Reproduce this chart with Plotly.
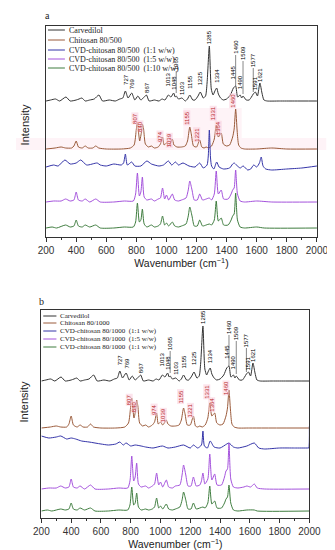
import plotly.graph_objects as go

W, H = 335, 550

# ---- spectra: (wavenumber cm-1, intensity above the trace's own baseline) ----
CARVEDILOL = [(200, 0), (230, 1), (263, 2), (290, 0), (332, 4), (360, 0), (400, 1), (419, 2), (438, 3), (460, 0),
              (490, 1), (520, 2), (551, 6), (575, 0), (620, 1), (660, 0), (690, 2), (710, 3), (727, 10), (745, 3),
              (769, 8), (790, 1), (810, 5), (830, 1), (852, 4), (867, 6), (885, 0), (920, 1), (950, 0), (971, 2),
              (990, 1), (1013, 6), (1030, 4), (1048, 8), (1058, 4), (1065, 5), (1080, 2), (1103, 3), (1125, 0),
              (1140, 2), (1155, 6), (1175, 1), (1190, 1), (1210, 5), (1225, 9), (1245, 3), (1260, 5), (1270, 18),
              (1285, 55), (1298, 12), (1310, 6), (1322, 10), (1334, 13), (1345, 7), (1360, 3), (1378, 1), (1400, 2),
              (1425, 6), (1445, 13), (1460, 15), (1473, 4), (1490, 6), (1500, 3), (1509, 5), (1530, 1), (1550, 1),
              (1565, 4), (1577, 7), (1591, 9), (1605, 5), (1621, 18), (1635, 8), (1648, 1), (1670, 0), (1750, 0),
              (1850, 0), (2000, 0)]

CHITOSAN_500 = [(200, 0), (260, 1), (300, 2), (330, 1), (370, 1), (385, 3), (400, 8), (415, 2), (440, 1), (460, 3),
                (480, 1), (510, 1), (530, 3), (550, 1), (600, 0), (700, 0), (760, 1), (785, 4), (800, 20), (807, 27),
                (822, 8), (835, 18), (840, 25), (848, 20), (860, 5), (880, 2), (900, 3), (920, 1), (945, 2), (960, 5),
                (974, 12), (985, 4), (1000, 6), (1015, 3), (1030, 7), (1039, 10), (1050, 4), (1070, 2), (1100, 2),
                (1125, 3), (1140, 8), (1155, 22), (1165, 15), (1180, 3), (1200, 2), (1221, 9), (1235, 2), (1250, 1),
                (1264, 2), (1280, 1), (1300, 3), (1318, 10), (1331, 24), (1345, 12), (1364, 16), (1378, 5), (1400, 3),
                (1420, 4), (1440, 12), (1450, 20), (1460, 40), (1470, 18), (1480, 4), (1495, 1), (1520, 0), (1600, 0),
                (1700, 1), (1800, 0), (2000, 0)]

CVD500_11 = [(200, -1), (250, 1), (280, 0), (325, 6), (360, 2), (400, 3), (430, 6), (470, 1), (540, 3), (560, 1),
             (600, 0), (650, 2), (700, 1), (715, 3), (727, 12), (740, 1), (769, 4), (790, 0), (830, 0), (870, 5),
             (900, 2), (950, 0), (980, 1), (1013, 5), (1035, 1), (1060, 4), (1080, 1), (1110, 3), (1150, 0), (1190, -1),
             (1221, 3), (1245, -2), (1270, 1), (1278, 10), (1285, 36), (1293, 8), (1300, 0), (1315, -3), (1334, 4),
             (1350, -1), (1380, -3), (1420, -2), (1440, 2), (1450, 3), (1465, 1), (1490, -2), (1510, 0), (1540, -4),
             (1560, -3), (1580, 1), (1600, -1), (1618, 3), (1630, 9), (1642, 0), (1660, -3), (1700, -4), (1800, -3),
             (1900, -2), (2000, 0)]

CVD500_15 = [(200, 0), (250, 1), (300, 1), (330, 3), (360, 1), (385, 2), (400, 10), (415, 2), (440, 1), (460, 3),
             (490, 0), (530, 3), (560, 0), (650, 0), (720, 1), (780, 1), (795, 8), (807, 29), (820, 6), (830, 10),
             (840, 25), (852, 5), (870, 2), (900, 3), (920, 1), (945, 3), (960, 4), (974, 14), (988, 3), (1000, 7),
             (1015, 2), (1039, 8), (1055, 2), (1080, 1), (1100, 2), (1130, 4), (1145, 12), (1155, 21), (1170, 12),
             (1185, 2), (1205, 2), (1221, 8), (1240, 2), (1264, 3), (1285, 4), (1300, 2), (1318, 8), (1331, 31),
             (1345, 8), (1364, 12), (1380, 3), (1410, 3), (1430, 8), (1440, 12), (1450, 14), (1460, 32), (1472, 8),
             (1490, 1), (1520, 0), (1600, 1), (1700, 0), (2000, 0)]

CVD500_110 = [(200, 0), (240, 1), (270, 0), (330, 3), (360, 1), (385, 2), (400, 8), (415, 2), (440, 1), (460, 3),
              (490, 1), (530, 3), (560, 0), (650, 0), (720, 1), (780, 1), (795, 6), (807, 25), (820, 6), (830, 8),
              (840, 19), (852, 4), (870, 1), (900, 3), (920, 1), (945, 2), (960, 4), (974, 12), (988, 3), (1000, 5),
              (1015, 2), (1039, 6), (1055, 2), (1080, 1), (1100, 2), (1130, 4), (1145, 12), (1155, 21), (1170, 12),
              (1185, 2), (1205, 2), (1221, 8), (1240, 2), (1264, 3), (1285, 4), (1300, 3), (1318, 8), (1331, 27),
              (1345, 7), (1364, 10), (1380, 3), (1410, 3), (1430, 8), (1440, 12), (1450, 14), (1460, 35), (1472, 8),
              (1490, 1), (1520, 0), (1600, 1), (1650, 0), (2000, 0)]

CHITOSAN_1000 = [(200, 0), (260, 1), (300, 2), (330, 1), (370, 1), (385, 4), (400, 12), (415, 3), (440, 1), (460, 3),
                 (480, 1), (510, 1), (530, 4), (550, 1), (600, 0), (700, 0), (760, 1), (785, 5), (800, 22), (807, 30),
                 (822, 10), (835, 20), (840, 28), (848, 22), (860, 5), (880, 2), (900, 3), (920, 1), (945, 3), (960, 6),
                 (974, 15), (985, 4), (1000, 6), (1015, 3), (1030, 6), (1039, 8), (1050, 4), (1070, 2), (1100, 2),
                 (1125, 3), (1140, 8), (1155, 20), (1165, 14), (1180, 3), (1200, 3), (1221, 12), (1235, 2), (1250, 1),
                 (1264, 2), (1280, 1), (1300, 3), (1318, 10), (1331, 25), (1345, 12), (1364, 15), (1378, 5), (1400, 3),
                 (1420, 4), (1440, 12), (1450, 20), (1460, 38), (1470, 18), (1480, 4), (1495, 1), (1520, 0), (1600, 0),
                 (2000, 0)]

CVD1000_11 = [(200, 12), (250, 10), (300, 11), (330, 12), (370, 9), (400, 10), (430, 9), (470, 7), (520, 6), (600, 4),
              (650, 3), (700, 4), (727, 6), (750, 3), (769, 5), (800, 2), (830, 3), (870, 2), (900, 1), (950, 0),
              (1013, 2), (1050, 0), (1100, 1), (1155, 3), (1200, 0), (1221, 3), (1250, 0), (1275, 3), (1285, 17),
              (1295, 2), (1315, 0), (1334, 7), (1360, 1), (1400, 0), (1445, 4), (1460, 5), (1490, 1), (1520, 0),
              (1580, 2), (1630, 5), (1660, 0), (1700, -1), (1800, 0), (1900, 0), (1990, 0), (1996, 0), (2000, 22)]

CVD1000_15 = [(200, 0), (250, 1), (300, 1), (330, 3), (360, 1), (385, 2), (400, 10), (415, 2), (440, 1), (460, 3),
              (490, 0), (530, 4), (560, 0), (650, 0), (720, 1), (780, 1), (795, 8), (807, 33), (820, 8), (830, 12),
              (840, 26), (852, 5), (870, 2), (900, 3), (920, 1), (945, 3), (960, 5), (974, 16), (988, 4), (1000, 7),
              (1015, 2), (1039, 9), (1055, 2), (1080, 1), (1100, 3), (1130, 4), (1145, 14), (1155, 24), (1170, 14),
              (1185, 3), (1205, 3), (1221, 12), (1240, 3), (1264, 4), (1275, 8), (1285, 16), (1298, 5), (1318, 10),
              (1331, 35), (1345, 9), (1364, 15), (1380, 4), (1410, 4), (1430, 12), (1440, 18), (1450, 20), (1460, 46),
              (1472, 10), (1490, 2), (1520, 1), (1560, 2), (1580, 3), (1605, 2), (1630, 5), (1650, 1), (1700, 0),
              (2000, 0)]

CVD1000_11B = [(200, 0), (240, 1), (270, 0), (330, 2), (360, 1), (385, 2), (400, 8), (415, 2), (440, 1), (460, 3),
               (490, 1), (530, 3), (560, 0), (650, 0), (720, 1), (780, 1), (795, 6), (807, 24), (820, 6), (830, 8),
               (840, 18), (852, 4), (870, 1), (900, 2), (920, 1), (945, 2), (960, 4), (974, 13), (988, 3), (1000, 5),
               (1015, 2), (1039, 7), (1055, 2), (1080, 1), (1100, 2), (1130, 4), (1145, 11), (1155, 19), (1170, 11),
               (1185, 2), (1205, 2), (1221, 8), (1240, 2), (1264, 3), (1285, 4), (1300, 3), (1318, 8), (1331, 25),
               (1345, 7), (1364, 10), (1380, 3), (1410, 3), (1430, 8), (1440, 12), (1450, 14), (1460, 26), (1472, 8),
               (1490, 1), (1520, 0), (1580, 1), (1630, 1), (1650, 0), (2000, 0)]

# stacking baselines (axis units, one unit ~ one pixel)
BASE_A = [136, 88, 71, 35, 9]
BASE_B = [137, 90, 70, 29, 7]

NAMES_A = ["Carvedilol", "Chitosan 80/500", "CVD-chitosan 80/500  (1:1 w/w)",
           "CVD-chitosan 80/500  (1:5 w/w)", "CVD-chitosan 80/500  (1:10 w/w)"]
NAMES_B = ["Carvedilol", "Chitosan 80/1000", "CVD-chitosan 80/1000  (1:1 w/w)",
           "CVD-chitosan 80/1000  (1:5 w/w)", "CVD-chitosan 80/1000  (1:1 w/w)"]
COLORS = ["#333333", "#9a5a3a", "#3434a8", "#a452dc", "#3f7d3f"]

# peak labels
CARV_PEAKS = [727, 769, 867, 1013, 1048, 1065, 1103, 1155, 1225, 1285, 1334, 1445, 1460, 1490, 1509, 1577, 1591, 1621]
CARV_LABEL_H = [15, 11, 7, 14, 10, 30, 5, 11, 15, 56, 17, 21, 46, 11, 40, 33, 10, 18]
CARV_LEADERS = {1065: 8, 1460: 15, 1509: 7, 1577: 9}
CHIT_PEAKS = [807, 840, 974, 1039, 1155, 1221, 1331, 1364, 1460]
CHIT_LABEL_H_A = [24, 16, 6, 1, 23, 6, 28, 13, 40]
CHIT_LABEL_H_B = [22, 15, 12, 5, 23, 10, 28, 15, 32]


def px(x):
    return x / W


def py(y):
    return 1 - y / H


fig = go.Figure()

panels = [
    ("x", "y", [CARVEDILOL, CHITOSAN_500, CVD500_11, CVD500_15, CVD500_110], BASE_A),
    ("x2", "y2", [CARVEDILOL, CHITOSAN_1000, CVD1000_11, CVD1000_15, CVD1000_11B], BASE_B),
]
for xa, ya, spectra, bases in panels:
    for spec, base, color in zip(spectra, bases, COLORS):
        fig.add_trace(go.Scatter(
            x=[p[0] for p in spec], y=[p[1] + base for p in spec],
            mode="lines", line=dict(color=color, width=1, shape="spline", smoothing=0.6),
            xaxis=xa, yaxis=ya, showlegend=False, hoverinfo="skip",
        ))

# faint pink highlight patches seen in the source image
pink = "rgba(252,226,236,0.4)"
for x0, y0, x1, y1 in [(0, 130, 330, 142), (178, 100, 240, 130)]:
    fig.add_shape(type="rect", xref="paper", yref="paper", x0=px(x0), x1=px(x1), y0=py(y0), y1=py(y1),
                  fillcolor=pink, line_width=0, layer="below")

label_font = dict(family="Liberation Sans, Arial", size=6, color="#000000")
chit_font = dict(family="Liberation Sans, Arial", size=6, color="#b8282a")

for xa, ya, bases, chit_h in [("x", "y", BASE_A, CHIT_LABEL_H_A), ("x2", "y2", BASE_B, CHIT_LABEL_H_B)]:
    for pk, h in zip(CARV_PEAKS, CARV_LABEL_H):
        fig.add_annotation(x=pk, y=bases[0] + h, xref=xa, yref=ya, text=str(pk), textangle=-90,
                           showarrow=False, yanchor="bottom", xanchor="center", font=label_font,
                           borderpad=0)
        if pk in CARV_LEADERS:
            fig.add_shape(type="line", xref=xa, yref=ya, x0=pk, x1=pk, y0=bases[0] + CARV_LEADERS[pk],
                          y1=bases[0] + h, line=dict(color="#555", width=0.7))
    for pk, h in zip(CHIT_PEAKS, chit_h):
        fig.add_annotation(x=pk, y=bases[1] + h, xref=xa, yref=ya, text=str(pk), textangle=-90,
                           showarrow=False, yanchor="bottom", xanchor="center", xshift=-3, font=chit_font,
                           bgcolor="rgba(250,205,220,0.55)", borderpad=0)

# hand-drawn legends (the original packs entries tighter than plotly's legend allows)
legends = [
    (NAMES_A, [22, 32, 42, 51, 60], 34, 52, 8),
    (NAMES_B, [308, 315, 323, 331, 339], 29, 43, 7),
]
for names, ys, lx0, lx1, fsize in legends:
    for name, yy, color in zip(names, ys, COLORS):
        fig.add_shape(type="line", xref="paper", yref="paper", x0=px(lx0), x1=px(lx1), y0=py(yy), y1=py(yy),
                      line=dict(color=color, width=1))
        fig.add_annotation(x=px(lx1 + 2), y=py(yy), xref="paper", yref="paper", text=name, showarrow=False,
                           xanchor="left", yanchor="middle",
                           font=dict(family="Liberation Serif, Times New Roman", size=fsize, color="#222"))

# panel letters and y titles
for letter, xx, yy in [("a", 33, 8), ("b", 27, 293)]:
    fig.add_annotation(x=px(xx), y=py(yy), xref="paper", yref="paper", text=letter, showarrow=False,
                       xanchor="center", yanchor="middle",
                       font=dict(family="Liberation Serif, Times New Roman", size=10, color="#222"))
for xx, yy in [(10, 117), (9, 394)]:
    fig.add_annotation(x=px(xx), y=py(yy), xref="paper", yref="paper", text="Intensity", textangle=-90,
                       showarrow=False, xanchor="center", yanchor="middle",
                       font=dict(family="Liberation Sans, Arial", size=11, color="#222"))

xcommon = dict(range=[200, 2000], dtick=200, tick0=200, ticks="outside", ticklen=4, tickwidth=1, tickcolor="#333",
               minor=dict(dtick=100, ticks="outside", ticklen=2, tickcolor="#333"),
               showline=True, linecolor="#333", linewidth=1, mirror=True, showgrid=False, zeroline=False,
               tickfont=dict(family="Liberation Sans, Arial", size=10, color="#333"),
               title=dict(text="Wavenumber (cm<sup>−1</sup>)", standoff=4,
                          font=dict(family="Liberation Sans, Arial", size=10.5, color="#222")))
ycommon = dict(showticklabels=False, ticks="", showline=True, linecolor="#333", linewidth=1, mirror=True,
               showgrid=False, zeroline=False)

fig.update_layout(
    width=W, height=H, margin=dict(l=0, r=0, t=0, b=0),
    paper_bgcolor="white", plot_bgcolor="rgba(0,0,0,0)",
    xaxis=dict(domain=[px(32), px(320)], anchor="y", **xcommon),
    yaxis=dict(domain=[py(229), py(18)], range=[0, 211], anchor="x", **ycommon),
    xaxis2=dict(domain=[px(27), px(312)], anchor="y2", **xcommon),
    yaxis2=dict(domain=[py(510), py(302)], range=[0, 208], anchor="x2", **ycommon),
    showlegend=False,
)

fig.write_html("out.html")
